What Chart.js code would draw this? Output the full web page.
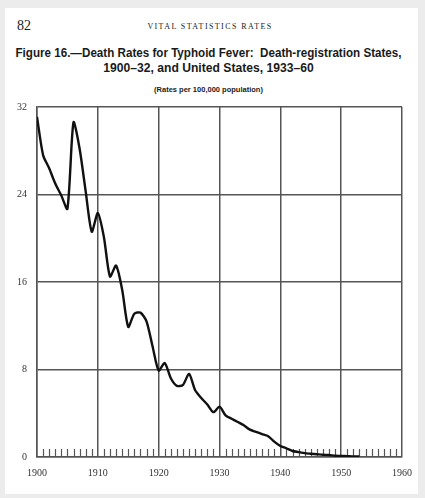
<!DOCTYPE html>
<html>
<head>
<meta charset="utf-8">
<script src="https://cdn.jsdelivr.net/npm/chart.js@4/dist/chart.umd.min.js"></script>
<style>
  html, body { margin: 0; padding: 0; background: #ececec; }
  #page { position: absolute; left: 5px; top: 8px; width: 413px; height: 486px; background: #fff; }
  #wrap { position: absolute; left: 0; top: 0; width: 425px; height: 498px; }
  .t { position: absolute; white-space: nowrap; color: #1a1a1a; }
  #pnum { left: 17px; top: 18px; font: 14px "Liberation Serif", serif; }
  #running { left: 130px; width: 160px; top: 22px; text-align: center; font: 8px "Liberation Serif", serif; letter-spacing: 1.4px; }
  #title1, #title2 { left: 0; width: 417px; text-align: center; font: bold 12.5px "Liberation Sans Narrow", "Liberation Sans", sans-serif; }
  #title1 { top: 46px; transform: scaleX(0.93); }
  #title2 { top: 61px; transform: scaleX(0.97); }
  #sub { left: 0; width: 417px; top: 85px; text-align: center; font: bold 7.5px "Liberation Sans", sans-serif; }
</style>
</head>
<body>
<div id="page"></div>
<div class="t" id="pnum">82</div>
<div class="t" id="running">VITAL STATISTICS RATES</div>
<div class="t" id="title1">Figure 16.—Death Rates for Typhoid Fever:&nbsp; Death-registration States,</div>
<div class="t" id="title2">1900–32, and United States, 1933–60</div>
<div class="t" id="sub">(Rates per 100,000 population)</div>
<div id="wrap"><canvas id="chart" width="425" height="498"></canvas></div>
<script>
// Años y tasas de mortalidad por fiebre tifoidea (por 100.000 habitantes)
const years = [1900, 1901, 1902, 1903, 1904, 1905, 1906, 1907, 1908, 1909,
               1910, 1911, 1912, 1913, 1914, 1915, 1916, 1917, 1918, 1919,
               1920, 1921, 1922, 1923, 1924, 1925, 1926, 1927, 1928, 1929,
               1930, 1931, 1932, 1933, 1934, 1935, 1936, 1937, 1938, 1939,
               1940, 1941, 1942, 1943, 1944, 1945, 1946, 1947, 1948, 1949,
               1950, 1951, 1952, 1953];
const rates = [31.1, 27.6, 26.4, 25.0, 23.9, 22.7, 30.6, 28.2, 24.3, 20.6,
               22.3, 20.1, 16.5, 17.5, 15.3, 11.9, 13.1, 13.2, 12.4, 10.1,
               7.9, 8.6, 7.2, 6.5, 6.6, 7.6, 6.1, 5.4, 4.8, 4.1,
               4.6, 3.8, 3.5, 3.2, 2.9, 2.5, 2.3, 2.1, 1.9, 1.4,
               1.0, 0.8, 0.55, 0.45, 0.35, 0.3, 0.25, 0.2, 0.18, 0.12,
               0.1, 0.08, 0.05, 0.05];
const yTicks = [0, 8, 16, 24, 32];
const xTicks = [1900, 1910, 1920, 1930, 1940, 1950, 1960];

const gridColor = '#555';

// Pequeñas marcas anuales sobre la línea base
const yearMarks = {
    id: 'yearMarks',
    beforeDatasetsDraw(chart) {
        const x = chart.scales.x;
        const bottom = chart.chartArea.bottom;
        const c = chart.ctx;
        c.save();
        c.strokeStyle = '#555';
        c.lineWidth = 1.2;
        for (let yr = 1901; yr < 1960; yr++) {
            if (yr % 10 === 0) continue;
            const px = Math.round(x.getPixelForValue(yr)) + 0.5;
            c.beginPath();
            c.moveTo(px, bottom);
            c.lineTo(px, bottom - 8);
            c.stroke();
        }
        c.restore();
    }
};

new Chart(document.getElementById('chart'), {
    type: 'line',
    data: {
        datasets: [{
            data: years.map((yr, i) => ({ x: yr, y: rates[i] })),
            borderColor: '#111',
            borderWidth: 2.4,
            pointRadius: 0,
            tension: 0.25,
            fill: false
        }]
    },
    options: {
        responsive: false,
        animation: false,
        layout: { padding: { left: 0, top: 107, right: 23, bottom: 0 } },
        plugins: { legend: { display: false }, tooltip: { enabled: false } },
        scales: {
            x: {
                type: 'linear',
                min: 1900, max: 1960,
                afterBuildTicks: (s) => { s.ticks = xTicks.map(v => ({ value: v })); },
                afterFit: (s) => { s.height = 41; },
                ticks: {
                    padding: 10, color: '#333', maxRotation: 0,
                    font: { family: 'Liberation Serif', size: 10 },
                    callback: (v) => String(v)
                },
                grid: { color: gridColor, lineWidth: 1.5, drawTicks: false },
                border: { color: gridColor, width: 1.5 }
            },
            y: {
                min: 0, max: 32,
                afterBuildTicks: (s) => { s.ticks = yTicks.map(v => ({ value: v })); },
                afterFit: (s) => { s.width = 37; },
                ticks: {
                    padding: 10, color: '#333',
                    font: { family: 'Liberation Serif', size: 10 }
                },
                grid: { color: gridColor, lineWidth: 1.5, drawTicks: false },
                border: { color: gridColor, width: 1.5 }
            }
        }
    },
    plugins: [yearMarks]
});
</script>
</body>
</html>
